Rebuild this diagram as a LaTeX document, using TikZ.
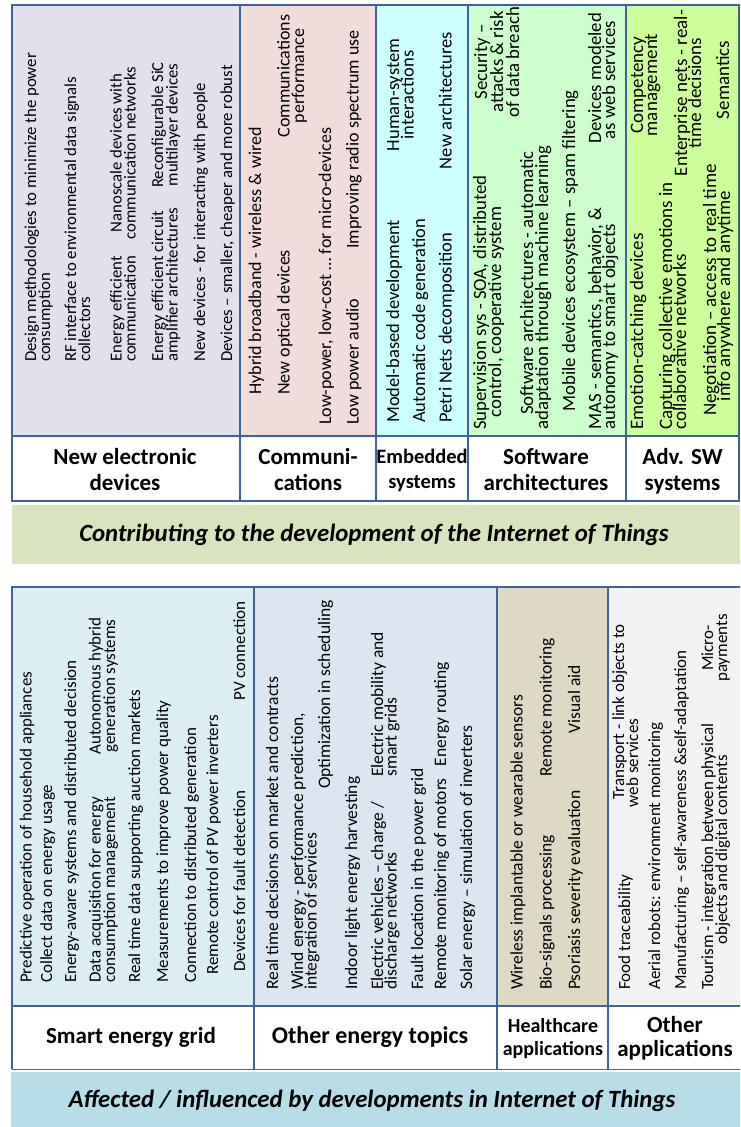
\documentclass[tikz,border=0pt]{standalone}
\usepackage{fontspec}
\setmainfont{Carlito}
\definecolor{bcol}{HTML}{3F6397}
\definecolor{cA}{HTML}{E4DFEC}
\definecolor{cB}{HTML}{F2DCDB}
\definecolor{cC}{HTML}{CCFFFF}
\definecolor{cD}{HTML}{CCFFCC}
\definecolor{cE}{HTML}{CCFF99}
\definecolor{cF}{HTML}{DAEEF3}
\definecolor{cG}{HTML}{DCE6F1}
\definecolor{cH}{HTML}{DDD9C4}
\definecolor{cI}{HTML}{F2F2F2}
\definecolor{bnA}{HTML}{D7E4BD}
\definecolor{bnB}{HTML}{B7DEE8}
\newcommand{\fsz}[1]{\fontsize{#1pt}{#1pt}\selectfont}
\begin{document}
\begin{tikzpicture}[x=1pt,y=-1pt,
  L/.style={rotate=90,inner sep=0pt,anchor=base west},
  C/.style={rotate=90,inner sep=0pt,anchor=base},
  R/.style={rotate=90,inner sep=0pt,anchor=base east},
  hd/.style={inner sep=0pt,anchor=base,font=\bfseries\fsz{23}},
  hdm/.style={inner sep=0pt,anchor=base,font=\bfseries\fsz{20.5}},
  hds/.style={inner sep=0pt,anchor=base,font=\bfseries\fsz{20}},
  bt/.style={inner sep=0pt,anchor=base,font=\bfseries\itshape\fsz{24.8}},
  bd/.style={draw=bcol,line width=1.5pt},
  bdt/.style={draw=bcol,line width=1pt}]
\useasboundingbox (0,0) rectangle (740,1127);
% ---------- top table ----------
\fill[cA] (12,5) rectangle (240,436);
\fill[cB] (240,5) rectangle (376,436);
\fill[cC] (376,5) rectangle (468,436);
\fill[cD] (468,5) rectangle (626,436);
\fill[cE] (626,5) rectangle (739,436);
\draw[bd] (12,5) rectangle (739,501);
\draw[bd] (12,436) -- (739,436);
\foreach \xx in {240,376,468,626} \draw[bd] (\xx,5) -- (\xx,501);
% cell A
\begin{scope}[font=\fsz{16.75}]
\node[L] (a1) at (36,362) {Design methodologies to minimize the power};
\node[L] (a2) at (50,362) {consumption};
\node[L] (a3) at (76,362) {RF interface to environmental data signals};
\node[L] (a4) at (90,362) {collectors};
\node[L] (a5) at (121.5,362) {Energy efficient};
\node[L] (a6) at (135.5,362) {communication};
\node[C] (a7) at (121.5,153) {Nanoscale devices with};
\node[C] (a8) at (135.5,153) {communication networks};
\node[L] (a9) at (163,362) {Energy efficient circuit};
\node[L] (a10) at (177.5,362) {amplifier architectures};
\node[C] (a11) at (163,125) {Reconfigurable SiC};
\node[C] (a12) at (177.5,125) {multilayer devices};
\node[L] (a13) at (205,362) {New devices - for interacting with people};
\node[L] (a14) at (232,362) {Devices – smaller, cheaper and more robust};
\end{scope}
% cell B
\begin{scope}[font=\fsz{18}]
\node[L] (b1) at (261,395) {Hybrid broadband - wireless \& wired};
\node[L] (b2) at (289.5,395) {New optical devices};
\node[C] (b3) at (289.5,76) {Communications};
\node[C] (b4) at (304,76) {performance};
\node[L] (b5) at (331,425) {Low-power, low-cost … for micro-devices};
\node[L] (b6) at (358.5,425) {Low power audio};
\node[R] (b7) at (358.5,30) {Improving radio spectrum use};
\end{scope}
% cell C
\begin{scope}[font=\fsz{18.5}]
\node[L] (c1) at (399,423) {Model-based development};
\node[L] (c2) at (425,423) {Automatic code generation};
\node[L] (c3) at (451.5,423) {Petri Nets decomposition};
\node[C] (c4) at (399,95) {Human-system};
\node[C] (c5) at (413.5,95) {interactions};
\node[R] (c6) at (451.5,32) {New architectures};
\end{scope}
% cell D
\begin{scope}[font=\fsz{18.8}]
\node[L] (d1) at (486,430) {Supervision sys - SOA, distributed};
\node[C] (d2) at (501,312) {control, cooperative system};
\node[C] (d3) at (487,62) {Security –};
\node[C] (d4) at (503,62) {attacks \& risk};
\node[C] (d5) at (519,62) {of data breach};
\node[C] (d6) at (533,283) {Software architectures - automatic};
\node[L] (d7) at (548,430) {adaptation through machine learning};
\node[L] (d8) at (575,412) {Mobile devices ecosystem – spam filtering};
\node[L] (d9) at (601,430) {MAS - semantics, behavior, \&};
\node[L] (d10) at (615,430) {autonomy to smart objects};
\node[C] (d11) at (601,78) {Devices modeled};
\node[C] (d12) at (615,80) {as web services};
\end{scope}
% cell E
\begin{scope}[font=\fsz{19}]
\node[L] (e1) at (643,430) {Emotion-catching devices};
\node[C] (e2) at (643,85) {Competency};
\node[C] (e3) at (657,85) {management};
\node[L] (e4) at (672,430) {Capturing collective emotions in};
\node[L] (e5) at (686,430) {collaborative networks};
\node[C] (e6) at (687,93) {Enterprise nets - real-};
\node[C] (e7) at (701,93) {time decisions};
\node[C] (e8) at (716,290) {Negotiation – access to real time};
\node[C] (e9) at (730,296) {info anywhere and anytime};
\node[C] (e10) at (729,80) {Semantics};
\end{scope}
% headers
\node[hd] (hA1) at (125,464) {New electronic};
\node[hd] (hA2) at (125,490) {devices};
\node[hd] (hB1) at (308,464) {Communi-};
\node[hd] (hB2) at (308,490) {cations};
\node[hdm] (hC1) at (422,463) {Embedded};
\node[hdm] (hC2) at (422,488) {systems};
\node[hd] (hD1) at (546,464) {Software};
\node[hd] (hD2) at (546,490) {architectures};
\node[hd] (hE1) at (682.5,464) {Adv. SW};
\node[hd] (hE2) at (682.5,490) {systems};
% ---------- banner 1 ----------
\fill[bnA] (12,505) rectangle (740,564);
\node[bt] (ban1) at (374,541.5) {Contributing to the development of the Internet of Things};
% ---------- bottom table ----------
\fill[cF] (12,587) rectangle (254,1006);
\fill[cG] (254,587) rectangle (497,1006);
\fill[cH] (497,587) rectangle (608,1006);
\fill[cI] (608,587) rectangle (740,1006);
\draw[bd] (740,587) -- (12,587) -- (12,1069);
\draw[bd] (12,1006) -- (740,1006);
\draw[bdt] (12,1069) -- (740,1069);
\foreach \xx in {254,497,608} \draw[bd] (\xx,587) -- (\xx,1069);
% smart energy grid
\begin{scope}[font=\fsz{17}]
\node[L] (s1) at (31.5,983) {Predictive operation of household appliances};
\node[L] (s2) at (52,983) {Collect data on energy usage};
\node[L] (s3) at (76,983) {Energy-aware systems and distributed decision};
\node[L] (s4) at (100.5,983) {Data acquisition for energy};
\node[L] (s5) at (115,983) {consumption management};
\node[C] (s6) at (100.5,686) {Autonomous hybrid};
\node[C] (s7) at (115,686) {generation systems};
\node[L] (s8) at (140,983) {Real time data supporting auction markets};
\node[L] (s9) at (168,983) {Measurements to improve power quality};
\node[L] (s10) at (196,983) {Connection to distributed generation};
\node[L] (s11) at (218,975) {Remote control of PV power inverters};
\node[L] (s12) at (245,972) {Devices for fault detection};
\node[R] (s13) at (245,601) {PV connection};
\end{scope}
% other energy topics
\begin{scope}[font=\fsz{17.5}]
\node[L] (o1) at (278,990) {Real time decisions on market and contracts};
\node[L] (o2) at (303,990) {Wind energy - performance prediction,};
\node[L] (o3) at (316.5,990) {integration of services};
\node[R] (o4) at (330,600) {Optimization in scheduling};
\node[L] (o5) at (357,990) {Indoor light energy harvesting};
\node[L] (o6) at (383,990) {Electric vehicles – charge /};
\node[L] (o7) at (396.5,990) {discharge networks};
\node[L] (o8) at (383,777) {Electric mobility and};
\node[L] (o9) at (396.5,777) {smart grids};
\node[L] (o10) at (423,990) {Fault location in the power grid};
\node[L] (o11) at (446,990) {Remote monitoring of motors};
\node[R] (o12) at (446,662) {Energy routing};
\node[L] (o13) at (472,990) {Solar energy – simulation of inverters};
\end{scope}
% healthcare
\begin{scope}[font=\fsz{17.5}]
\node[L] (h1) at (522.5,990) {Wireless implantable or wearable sensors};
\node[L] (h2) at (551.5,990) {Bio-signals processing};
\node[R] (h3) at (551.5,638) {Remote monitoring};
\node[L] (h4) at (580,990) {Psoriasis severity evaluation};
\node[R] (h5) at (580,665) {Visual aid};
\end{scope}
% other applications
\begin{scope}[font=\fsz{17}]
\node[L] (p1) at (630,990) {Food traceability};
\node[C] (p2) at (624,712) {Transport - link objects to};
\node[C] (p3) at (638,763) {web services};
\node[L] (p4) at (660,990) {Aerial robots: environment monitoring};
\node[L] (p5) at (686,990) {Manufacturing – self-awareness \&self-adaptation};
\node[L] (p6) at (713,990) {Tourism - integration between physical};
\node[C] (p7) at (727,850) {objects and digital contents};
\node[C] (p8) at (713,648) {Micro-};
\node[C] (p9) at (727,648) {payments};
\end{scope}
% bottom headers
\node[hd] (hF) at (131,1043) {Smart energy grid};
\node[hd,font=\bfseries\fsz{24}] (hG) at (370,1043) {Other energy topics};
\node[hds] (hH1) at (553,1032) {Healthcare};
\node[hds] (hH2) at (553,1055) {applications};
\node[hd] (hI1) at (675,1032) {Other};
\node[hd] (hI2) at (675,1056) {applications};
% ---------- banner 2 ----------
\fill[bnB] (11,1072) rectangle (740,1127);
\node[bt] (ban2) at (372,1107.5) {Affected / influenced by developments in Internet of Things};
\end{tikzpicture}
\end{document}
